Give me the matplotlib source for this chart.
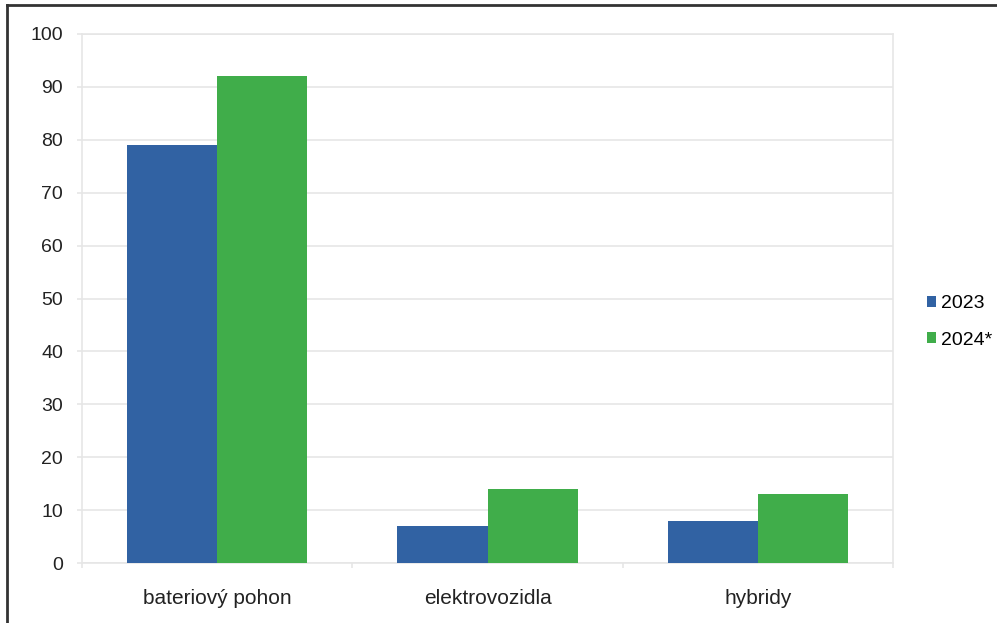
import matplotlib.pyplot as plt
import numpy as np

kategorie = ['bateriový pohon', 'elektrovozidla', 'hybridy']
roky = ['2023', '2024*']
hodnoty_2023 = [79, 7, 8]
hodnoty_2024 = [92, 14, 13]
barvy = ['#3162a3', '#40ad4a']

plt.rcParams['font.family'] = ['Liberation Sans', 'DejaVu Sans']

fig = plt.figure(figsize=(9.97, 6.23), dpi=100)
ax = fig.add_axes([82 / 997, 60 / 623, 811 / 997, 529 / 623])

x = np.arange(len(kategorie))
sirka = 1 / 3
ax.bar(x - sirka / 2, hodnoty_2023, sirka, color=barvy[0], label=roky[0], zorder=3)
ax.bar(x + sirka / 2, hodnoty_2024, sirka, color=barvy[1], label=roky[1], zorder=3)

ax.set_xlim(-0.5, len(kategorie) - 0.5)
ax.set_ylim(0, 100)
ax.set_yticks(range(0, 101, 10))
ax.set_xticks(x)
ax.set_xticklabels(kategorie)
ax.set_xticks(np.arange(len(kategorie) + 1) - 0.5, minor=True)
ax.grid(axis='y', color='#e6e6e6', linewidth=1.2, zorder=0)
for s in ax.spines.values():
    s.set_color('#e6e6e6')
    s.set_linewidth(1.2)
ax.tick_params(axis='y', length=3.6, width=1.2, color='#e6e6e6', labelsize=14, pad=10, labelcolor='#222222')
ax.tick_params(axis='x', which='major', length=0, labelsize=15, pad=19, labelcolor='#222222')
ax.tick_params(axis='x', which='minor', length=3.6, width=1.2, color='#e6e6e6')

ax.legend(loc='center left', bbox_to_anchor=(917 / 997, 1 - 322 / 623),
          bbox_transform=fig.transFigure, frameon=False, fontsize=14, borderpad=0,
          handlelength=0.5, handleheight=0.5, handletextpad=0.25, labelspacing=1.0)

# rámeček kolem obrázku
fig.add_artist(plt.Line2D([6.5 / 997, 6.5 / 997], [0, 1 - 5 / 623], color='#333333', lw=2))
fig.add_artist(plt.Line2D([6.5 / 997, 1], [1 - 5 / 623, 1 - 5 / 623], color='#333333', lw=2))

fig.savefig('out.png', dpi=100)
